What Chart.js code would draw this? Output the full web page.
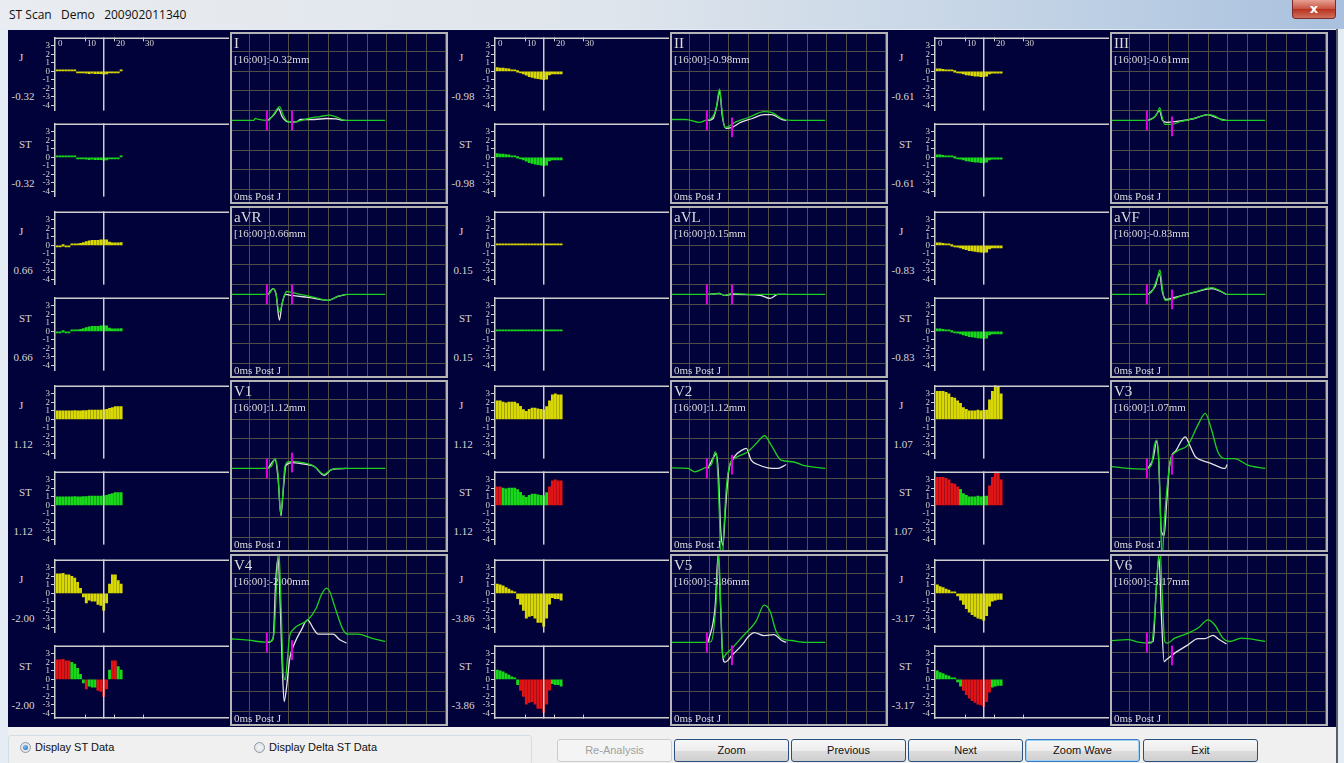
<!DOCTYPE html>
<html>
<head>
<meta charset="utf-8">
<script src="https://cdn.jsdelivr.net/npm/chart.js@4.4.1/dist/chart.umd.min.js"></script>
<style>
  html, body { margin: 0; padding: 0; }
  body { width: 1344px; height: 763px; position: relative; overflow: hidden;
         background: #e6ecf3; font-family: "Liberation Sans", Arial, sans-serif; }
  #titlebar { position: absolute; left: 0; top: 0; width: 1344px; height: 29px;
              background: linear-gradient(to right, #e9ecf0 0%, #dfe5ec 45%, #c4d4e6 75%, #a9c1de 100%); }
  #title { position: absolute; left: 9px; top: 6px; font: 12px "Open Sans", "Noto Sans", sans-serif; color: #111; white-space: pre; }
  #close { position: absolute; left: 1292px; top: 0; width: 44px; height: 19px; border: 1px solid #7a2b2b; border-top: none;
           border-radius: 0 0 4px 4px; box-sizing: border-box;
           background: linear-gradient(#e8a093, #c7523f 50%, #b8321f 51%, #d0705c); color: #fff;
           font: bold 13px "DejaVu Sans", sans-serif; text-align: center; line-height: 17px; }
  #main { position: absolute; left: 8px; top: 30px; width: 1328px; height: 697px; background: #02023a; }
  #bottom { position: absolute; left: 8px; top: 727px; width: 1328px; height: 36px; background: #f0f0f0; }
  #rightedge { position: absolute; left: 1336px; top: 29px; width: 2px; height: 734px; background: #59606a; }
  .gtxt { position: absolute; color: #d6d6d6; font: 11px "Liberation Serif", serif; white-space: nowrap; }
  .panel { position: absolute; box-sizing: border-box; border: 2px solid #b4b4b4; background: #02023a; }
  .panel canvas { position: absolute; left: 0; top: 0; }
  .lead { position: absolute; left: 2px; top: 1px; color: #dcdcdc; font: 15px "Liberation Serif", serif; z-index: 2; }
  .stval { position: absolute; left: 2px; top: 19px; color: #dcdcdc; font: 11px "Liberation Serif", serif; z-index: 2; white-space: nowrap; }
  .postj { position: absolute; left: 2px; bottom: 0px; color: #dcdcdc; font: 11px "Liberation Serif", serif; z-index: 2; white-space: nowrap; }
  canvas.trend { position: absolute; }
  #group { position: absolute; left: 8px; top: 735px; width: 524px; height: 30px; border: 1px solid #d5dde4; border-radius: 3px; box-sizing: border-box; }
  .radio { position: absolute; top: 742px; width: 11px; height: 11px; border-radius: 50%; border: 1px solid #8e9aa6;
           background: radial-gradient(#f4f4f4, #d8dde2); box-sizing: border-box; }
  .radio.on::after { content: ""; position: absolute; left: 2px; top: 2px; width: 5px; height: 5px; border-radius: 50%;
                     background: radial-gradient(circle at 40% 35%, #7ec0f0, #1c5fa8); }
  .rlabel { position: absolute; top: 741px; font: 11px "Liberation Sans", Arial, sans-serif; color: #111; }
  .btn { position: absolute; top: 739px; width: 115px; height: 23px; box-sizing: border-box; border: 1px solid #2a4f7c;
         border-radius: 3px; background: linear-gradient(#f7f7f7, #ececec 50%, #dddddd 51%, #cfcfcf);
         font: 11px "Liberation Sans", Arial, sans-serif; color: #111; text-align: center; line-height: 21px; }
  .btn.off { border-color: #c9cdd2; background: #f4f4f4; color: #a0a0a0; }
  .btn.focus { border-color: #3d7bc4; box-shadow: inset 0 0 0 1px #9fd1f5; }
</style>
</head>
<body>
<div id="titlebar"><div id="title">ST Scan   Demo   200902011340</div><div id="close">x</div></div>
<div id="main"></div>
<div id="bottom"></div>
<div id="rightedge"></div>
<div id="group"></div>
<div class="radio on" style="left:20px"></div><div class="rlabel" style="left:35px">Display ST Data</div>
<div class="radio" style="left:254px"></div><div class="rlabel" style="left:269px">Display Delta ST Data</div>
<div class="btn off" style="left:557px">Re-Analysis</div>
<div class="btn" style="left:674px">Zoom</div>
<div class="btn" style="left:791px">Previous</div>
<div class="btn" style="left:908px">Next</div>
<div class="btn focus" style="left:1025px">Zoom Wave</div>
<div class="btn" style="left:1143px">Exit</div>
<div id="charts"></div>
<script>
// ---- data ----
const leadNames = ["I", "II", "III", "aVR", "aVL", "aVF", "V1", "V2", "V3", "V4", "V5", "V6"];
const cursorIndex = 16;          // selected trend sample (16:00)
const cursorLabel = "16:00";
const timeTicks = [0, 10, 20, 30];
const mmTicks = [3, 2, 1, 0, -1, -2, -3, -4];
const msGrid = [0, 100, 200, 300, 400, 500, 600, 700, 800, 900, 1000];
const gridLevels = [-3.5, -2.5, -1.5, -0.5, 0.5, 1.5, 2.5, 3.5];
const qrsOnsetMs = 88;
const jPointMs = 216;

// J / ST trend per minute (mm)
const trendI   = [0.15, 0.15, 0.15, 0.1, 0.1, 0.05, 0.02, -0.05, -0.05, -0.1, -0.2, -0.25, -0.2, -0.25, -0.25, -0.25, -0.32, -0.3, -0.1, -0.05, -0.05, -0.05, 0.05];
const trendII  = [0.45, 0.4, 0.4, 0.35, 0.3, 0.2, 0.1, 0.0, -0.1, -0.3, -0.45, -0.6, -0.7, -0.8, -0.85, -0.9, -0.98, -0.9, -0.4, -0.3, -0.3, -0.3, -0.3];
const trendIII = [0.3, 0.3, 0.25, 0.2, 0.1, 0.05, 0.0, -0.1, -0.2, -0.3, -0.4, -0.45, -0.5, -0.55, -0.55, -0.6, -0.61, -0.55, -0.3, -0.2, -0.2, -0.2, -0.2];
const trendAVR = [-0.05, -0.05, 0.0, -0.1, -0.05, 0.05, 0.05, 0.15, 0.25, 0.35, 0.45, 0.55, 0.6, 0.6, 0.6, 0.65, 0.66, 0.65, 0.4, 0.3, 0.3, 0.3, 0.35];
const trendAVL = [0.1, 0.1, 0.1, 0.1, 0.15, 0.15, 0.1, 0.1, 0.15, 0.15, 0.15, 0.15, 0.15, 0.15, 0.15, 0.15, 0.15, 0.1, 0.1, 0.1, 0.15, 0.15, 0.15];
const trendAVF = [0.3, 0.3, 0.25, 0.2, 0.1, 0.0, -0.1, -0.2, -0.3, -0.4, -0.5, -0.6, -0.65, -0.7, -0.75, -0.8, -0.83, -0.8, -0.4, -0.3, -0.3, -0.3, -0.3];
const trendV1  = [1.0, 1.0, 1.0, 1.0, 1.0, 1.0, 1.05, 1.0, 1.0, 1.05, 1.05, 1.1, 1.1, 1.1, 1.1, 1.1, 1.12, 1.2, 1.3, 1.4, 1.5, 1.5, 1.5];
const trendV2  = [2.2, 2.2, 2.05, 1.95, 2.05, 2.05, 2.05, 1.85, 1.55, 1.15, 0.95, 1.2, 1.35, 1.35, 1.25, 1.2, 1.12, 1.5, 2.2, 2.9, 3.0, 2.9, 2.9];
const trendV3  = [3.3, 3.3, 3.3, 3.2, 3.0, 2.6, 2.5, 2.2, 1.9, 1.4, 1.2, 1.0, 1.0, 1.0, 1.1, 1.0, 1.07, 1.1, 2.3, 3.3, 4.1, 3.9, 3.0];
const trendV4  = [2.3, 2.3, 2.35, 2.2, 2.2, 2.0, 1.8, 1.3, 0.6, -0.4, -1.1, -0.8, -0.9, -0.9, -1.3, -1.4, -2.0, -1.1, 1.1, 2.2, 2.2, 1.5, 1.1];
const trendV5  = [1.1, 1.0, 0.9, 0.7, 0.5, 0.3, 0.1, -0.6, -1.3, -2.0, -2.9, -2.7, -2.6, -2.9, -3.4, -3.4, -3.86, -2.9, -1.25, -0.5, -0.6, -0.6, -0.8];
const trendV6  = [1.0, 0.8, 0.7, 0.5, 0.4, 0.2, 0.1, -0.3, -0.8, -1.3, -1.8, -2.2, -2.5, -2.7, -2.9, -3.0, -3.17, -2.6, -1.5, -0.9, -0.8, -0.7, -0.7];

// averaged beats: [ms, level] (level in grid squares, 0 = baseline)
const curI   = [[-110, 0], [20, 0], [30, 0.1], [45, 0.05], [94, 0], [125, 0.35], [153, 0.7], [170, 0.3], [187, 0], [212, -0.08], [245, -0.05], [300, 0.1], [360, 0.2], [408, 0.27], [450, 0.15], [485, 0], [692, 0]];
const refI   = [[94, 0], [125, 0.3], [148, 0.6], [165, 0.2], [182, 0], [196, -0.07], [238, -0.07], [260, 0.05], [330, 0.05], [392, 0.1], [440, 0.08], [485, 0], [493, 0]];
const curII  = [[-110, 0.05], [-20, 0.05], [50, -0.1], [80, 0], [110, 0.1], [135, 0.6], [153, 1.6], [165, 0.5], [180, -0.35], [200, -0.3], [230, -0.1], [300, 0.15], [380, 0.45], [420, 0.4], [470, 0.1], [520, 0], [692, 0]];
const refII  = [[94, 0], [120, 0.1], [140, 0.8], [153, 1.5], [167, 0.2], [185, -0.4], [216, -0.35], [260, -0.1], [320, 0.1], [380, 0.3], [420, 0.3], [470, 0.05], [493, 0]];
const curIII = [[-110, 0], [80, 0], [110, 0.05], [140, 0.35], [153, 0.65], [165, 0.2], [180, -0.2], [216, -0.2], [260, -0.05], [330, 0.1], [400, 0.3], [430, 0.25], [480, 0], [692, 0]];
const refIII = [[94, 0], [130, 0.2], [152, 0.5], [168, 0], [190, -0.1], [240, -0.05], [330, 0.1], [400, 0.3], [440, 0.15], [493, 0]];
const curAVR = [[-110, 0], [70, 0], [100, 0.05], [120, 0.3], [135, 0], [150, -0.9], [160, -0.7], [175, -0.1], [190, 0.15], [216, 0.1], [260, 0], [330, -0.15], [400, -0.3], [450, -0.1], [500, 0], [692, 0]];
const refAVR = [[94, 0], [120, 0.3], [135, 0], [152, -1.3], [165, -0.5], [185, 0], [216, -0.05], [300, -0.15], [400, -0.3], [450, -0.1], [493, 0]];
const curAVL = [[-110, 0], [100, 0], [150, 0.05], [180, -0.05], [216, 0.05], [300, 0], [692, 0]];
const refAVL = [[94, 0], [150, 0.05], [180, -0.05], [216, 0], [360, -0.05], [410, -0.2], [450, 0], [493, 0]];
const curAVF = [[-110, 0], [80, 0], [110, 0.1], [140, 0.8], [155, 1.25], [167, 0.3], [180, -0.3], [216, -0.25], [270, -0.05], [340, 0.15], [420, 0.35], [460, 0.2], [500, 0], [692, 0]];
const refAVF = [[94, 0], [130, 0.4], [152, 1.05], [168, 0.1], [185, -0.25], [230, -0.15], [330, 0.1], [420, 0.3], [465, 0.15], [493, 0]];
const curV1  = [[-110, 0], [80, 0], [110, 0.1], [130, 0.5], [145, -0.3], [158, -2.3], [168, -1.5], [180, 0.1], [200, 0.35], [230, 0.35], [270, 0.3], [330, 0.1], [380, -0.3], [410, -0.1], [450, 0], [692, 0]];
const refV1  = [[94, 0], [130, 0.45], [145, -0.5], [160, -2.4], [170, -1.3], [185, 0.15], [216, 0.3], [260, 0.25], [330, 0.1], [380, -0.35], [420, -0.05], [493, 0]];
const curV2  = [[-110, 0.03], [-8, 0], [26, -0.17], [77, 0.03], [111, 0.2], [131, 0.85], [141, 0.17], [153, -2.7], [161, -5.5], [175, -3.05], [187, -1.0], [204, 0.17], [229, 0.5], [297, 0.85], [348, 1.36], [382, 1.66], [416, 1.19], [467, 0.42], [527, 0.34], [586, 0.14], [692, 0]];
const refV2  = [[93, 0], [124, 0.6], [136, 0.76], [148, -0.5], [158, -3.05], [170, -3.9], [182, -2.2], [199, -0.17], [229, 0.6], [267, 0.93], [289, 1.02], [314, 0.42], [348, 0.2], [399, 0.03], [450, 0], [493, 0.2]];
const curV3  = [[-110, 0.12], [-8, 0], [77, -0.03], [111, 0.17], [127, 1.2], [139, 1.44], [149, 0.34], [158, -2.54], [165, -4.6], [178, -2.54], [192, -0.85], [209, 0.42], [238, 0.85], [297, 1.19], [348, 2.2], [386, 2.8], [416, 2.03], [450, 0.85], [484, 0.5], [535, 0.5], [603, 0.17], [692, 0]];
const refV3  = [[94, 0], [120, 0.5], [138, 1.36], [148, 0.5], [162, -3.2], [176, -3.4], [188, -1.86], [204, 0.17], [238, 0.93], [284, 1.6], [306, 1.19], [335, 0.6], [366, 0.42], [417, 0.25], [468, 0.03], [488, 0], [497, 0.2]];
const curV4  = [[-110, 0.19], [-8, 0.12], [77, 0.02], [108, 0.05], [125, 0.56], [138, 3.1], [148, 4.8], [162, 1.4], [172, -1.64], [182, -1.9], [193, -0.8], [203, 0.25], [221, 0.64], [298, 1.15], [340, 1.75], [366, 2.42], [392, 2.76], [408, 2.6], [434, 1.83], [477, 0.64], [502, 0.42], [553, 0.42], [621, 0.22], [692, 0.05]];
const refV4  = [[94, 0], [120, 0.2], [133, 3.1], [145, 4.3], [155, 2.25], [165, -0.8], [176, -3.0], [188, -2.3], [205, -0.8], [230, -0.03], [264, 0.64], [295, 1.15], [324, 0.73], [349, 0.42], [383, 0.42], [426, 0.42], [460, 0.14], [494, -0.03]];
const curV5  = [[-110, 0], [80, 0], [110, 0.05], [135, 2.0], [148, 4.6], [160, 1.5], [170, -0.8], [185, -0.6], [216, -0.3], [270, 0.3], [340, 1.1], [380, 1.9], [410, 1.6], [440, 0.6], [470, 0.2], [520, 0.1], [600, 0], [692, 0]];
const refV5  = [[94, 0], [130, 1.8], [146, 4.5], [158, 1.8], [168, -0.6], [180, -1.0], [216, -0.65], [270, -0.1], [300, 0.3], [330, 0.5], [380, 0.35], [430, 0.4], [470, 0.1], [493, 0]];
const curV6  = [[-110, 0.08], [-8, 0.14], [43, 0.02], [111, -0.03], [128, 1.4], [145, 4.1], [155, 4.8], [165, 2.76], [179, 0.05], [193, -0.03], [230, 0.22], [298, 0.47], [349, 0.73], [400, 1.15], [434, 0.9], [476, 0.22], [510, 0.05], [570, 0.22], [692, 0.05]];
const refV6  = [[94, 0], [120, 0.05], [136, 2.76], [150, 4.3], [162, 1.4], [176, -0.97], [187, -0.88], [230, -0.54], [298, -0.12], [349, 0.19], [383, 0.19], [426, 0.36], [451, 0.19], [494, -0.08]];

const jMarkLevel = [0, -0.35, -0.3, 0, 0, -0.25, 0.3, 0.19, 0.19, -0.39, -0.65, -0.66];

const trends = [trendI, trendII, trendIII, trendAVR, trendAVL, trendAVF, trendV1, trendV2, trendV3, trendV4, trendV5, trendV6];
const curBeats = [curI, curII, curIII, curAVR, curAVL, curAVF, curV1, curV2, curV3, curV4, curV5, curV6];
const refBeats = [refI, refII, refIII, refAVR, refAVL, refAVF, refV1, refV2, refV3, refV4, refV5, refV6];

// ---- layout ----
const rowTops = [31, 205, 379, 553];
const colStep = 440;
const lineCol = "#cfcfcf";
const gridCol = "#4f4f47";
const host = document.getElementById("charts");

const trendFrame = {
  id: "trendFrame",
  afterDatasetsDraw(chart, args, opts) {
    const { ctx, chartArea: a, scales: { x } } = chart;
    ctx.save();
    ctx.strokeStyle = lineCol;
    ctx.lineWidth = 1.5;
    const seg = (x1, y1, x2, y2) => { ctx.beginPath(); ctx.moveTo(x1, y1); ctx.lineTo(x2, y2); ctx.stroke(); };
    const cx = x.getPixelForValue(cursorIndex + 0.5);
    seg(cx, a.top, cx, a.bottom);
    seg(a.left, a.top + 0.75, a.right, a.top + 0.75);
    ctx.lineWidth = 1;
    if (opts.bottom) {
      ctx.lineWidth = 1.5;
      seg(a.left, a.bottom - 0.75, a.right, a.bottom - 0.75);
      ctx.lineWidth = 1;
      timeTicks.forEach(t => { if (t > 0) { const px = Math.round(x.getPixelForValue(t)) + 0.5; seg(px, a.bottom - 4, px, a.bottom); } });
    }
    if (opts.topTicks) {
      ctx.fillStyle = "#d6d6d6";
      ctx.font = '9px "Liberation Serif", serif';
      ctx.textBaseline = "top";
      timeTicks.forEach(t => {
        const px = Math.round(x.getPixelForValue(t)) + 0.5;
        if (t > 0) seg(px, a.top, px, a.top + 4);
        ctx.fillText(String(t), px + 1.5, a.top + 2);
      });
    }
    ctx.restore();
  }
};

function addText(cls, left, top, txt, extra) {
  const d = document.createElement("div");
  d.className = cls;
  d.style.left = left + "px";
  d.style.top = top + "px";
  if (extra) Object.assign(d.style, extra);
  d.textContent = txt;
  host.appendChild(d);
  return d;
}

function trendChart(values, kind, col, row) {
  const c = document.createElement("canvas");
  c.className = "trend";
  c.width = 201; c.height = 86;
  c.style.left = (col * colStep + 28) + "px";
  c.style.top = (rowTops[row] + (kind === "ST" ? 86 : 0)) + "px";
  host.appendChild(c);
  const colors = values.map(v => kind === "J" ? "#d9d900" : (v > 2.1 || v < -1.0 ? "#e01414" : "#18d818"));
  new Chart(c, {
    type: "bar",
    data: { datasets: [{ data: values.map((v, i) => ({ x: i + 0.5, y: v })), backgroundColor: colors, barThickness: 2.2, minBarLength: 1.5 }] },
    options: {
      animation: false, responsive: false, devicePixelRatio: 1,
      layout: { padding: 0 },
      plugins: { legend: { display: false }, tooltip: { enabled: false },
                 trendFrame: { topTicks: row === 0 && kind === "J", bottom: row === 3 && kind === "ST" } },
      scales: {
        x: { type: "linear", offset: false, min: -0.3, max: 59.7, display: false },
        y: {
          min: -4.6, max: 4.0,
          afterBuildTicks: s => { s.ticks = mmTicks.map(v => ({ value: v })); },
          afterFit: s => { s.width = 27; },
          ticks: { color: "#d6d6d6", font: { family: "Liberation Serif", size: 9 }, padding: 1, autoSkip: false },
          grid: { drawOnChartArea: false, color: lineCol, tickLength: 4 },
          border: { color: lineCol, width: 1.5 }
        }
      }
    },
    plugins: [trendFrame]
  });
}

function waveChart(idx, col, row) {
  const p = document.createElement("div");
  p.className = "panel";
  p.style.left = (col * colStep + 230) + "px";
  p.style.top = (rowTops[row] + 1) + "px";
  p.style.width = "218px"; p.style.height = "172px";
  host.appendChild(p);
  const v = trends[idx][cursorIndex];
  const t1 = document.createElement("div"); t1.className = "lead"; t1.textContent = leadNames[idx]; p.appendChild(t1);
  const t2 = document.createElement("div"); t2.className = "stval"; t2.textContent = "[" + cursorLabel + "]:" + v.toFixed(2) + "mm"; p.appendChild(t2);
  const t3 = document.createElement("div"); t3.className = "postj"; t3.textContent = "0ms Post J"; p.appendChild(t3);
  const c = document.createElement("canvas");
  c.width = 214; c.height = 168;
  p.appendChild(c);
  const pts = arr => arr.map(([x, y]) => ({ x, y }));
  const marker = (ms, lvl) => [{ x: ms, y: lvl - 0.5 }, { x: ms, y: lvl + 0.5 }];
  new Chart(c, {
    type: "line",
    data: { datasets: [
      { data: marker(qrsOnsetMs, 0), borderColor: "#e600e6", borderWidth: 2 },
      { data: marker(jPointMs, jMarkLevel[idx]), borderColor: "#e600e6", borderWidth: 2 },
      { data: pts(curBeats[idx]), borderColor: "#1ecf1e", borderWidth: 1.3, cubicInterpolationMode: "monotone" },
      { data: pts(refBeats[idx]), borderColor: "#e4e4e4", borderWidth: 1.3, cubicInterpolationMode: "monotone" }
    ] },
    options: {
      animation: false, responsive: false, devicePixelRatio: 1,
      layout: { padding: 0 },
      elements: { point: { radius: 0 } },
      plugins: { legend: { display: false }, tooltip: { enabled: false } },
      scales: {
        x: { type: "linear", min: -90, max: 1002,
             afterBuildTicks: s => { s.ticks = msGrid.map(v => ({ value: v })); },
             ticks: { display: false }, grid: { color: gridCol, drawTicks: false }, border: { display: false } },
        y: { min: -4.14, max: 4.39,
             afterBuildTicks: s => { s.ticks = gridLevels.map(v => ({ value: v })); },
             ticks: { display: false }, grid: { color: gridCol, drawTicks: false }, border: { display: false } }
      }
    }
  });
}

leadNames.forEach((name, idx) => {
  const col = idx % 3, row = Math.floor(idx / 3);
  const x0 = col * colStep, y0 = rowTops[row];
  const v = trends[idx][cursorIndex].toFixed(2);
  addText("gtxt", x0 + 19, y0 + 20, "J");
  addText("gtxt", x0 + 23, y0 + 59, v, { transform: "translateX(-50%)" });
  addText("gtxt", x0 + 19, y0 + 107, "ST");
  addText("gtxt", x0 + 23, y0 + 146, v, { transform: "translateX(-50%)" });
  trendChart(trends[idx], "J", col, row);
  trendChart(trends[idx], "ST", col, row);
  waveChart(idx, col, row);
});
</script>
</body>
</html>
